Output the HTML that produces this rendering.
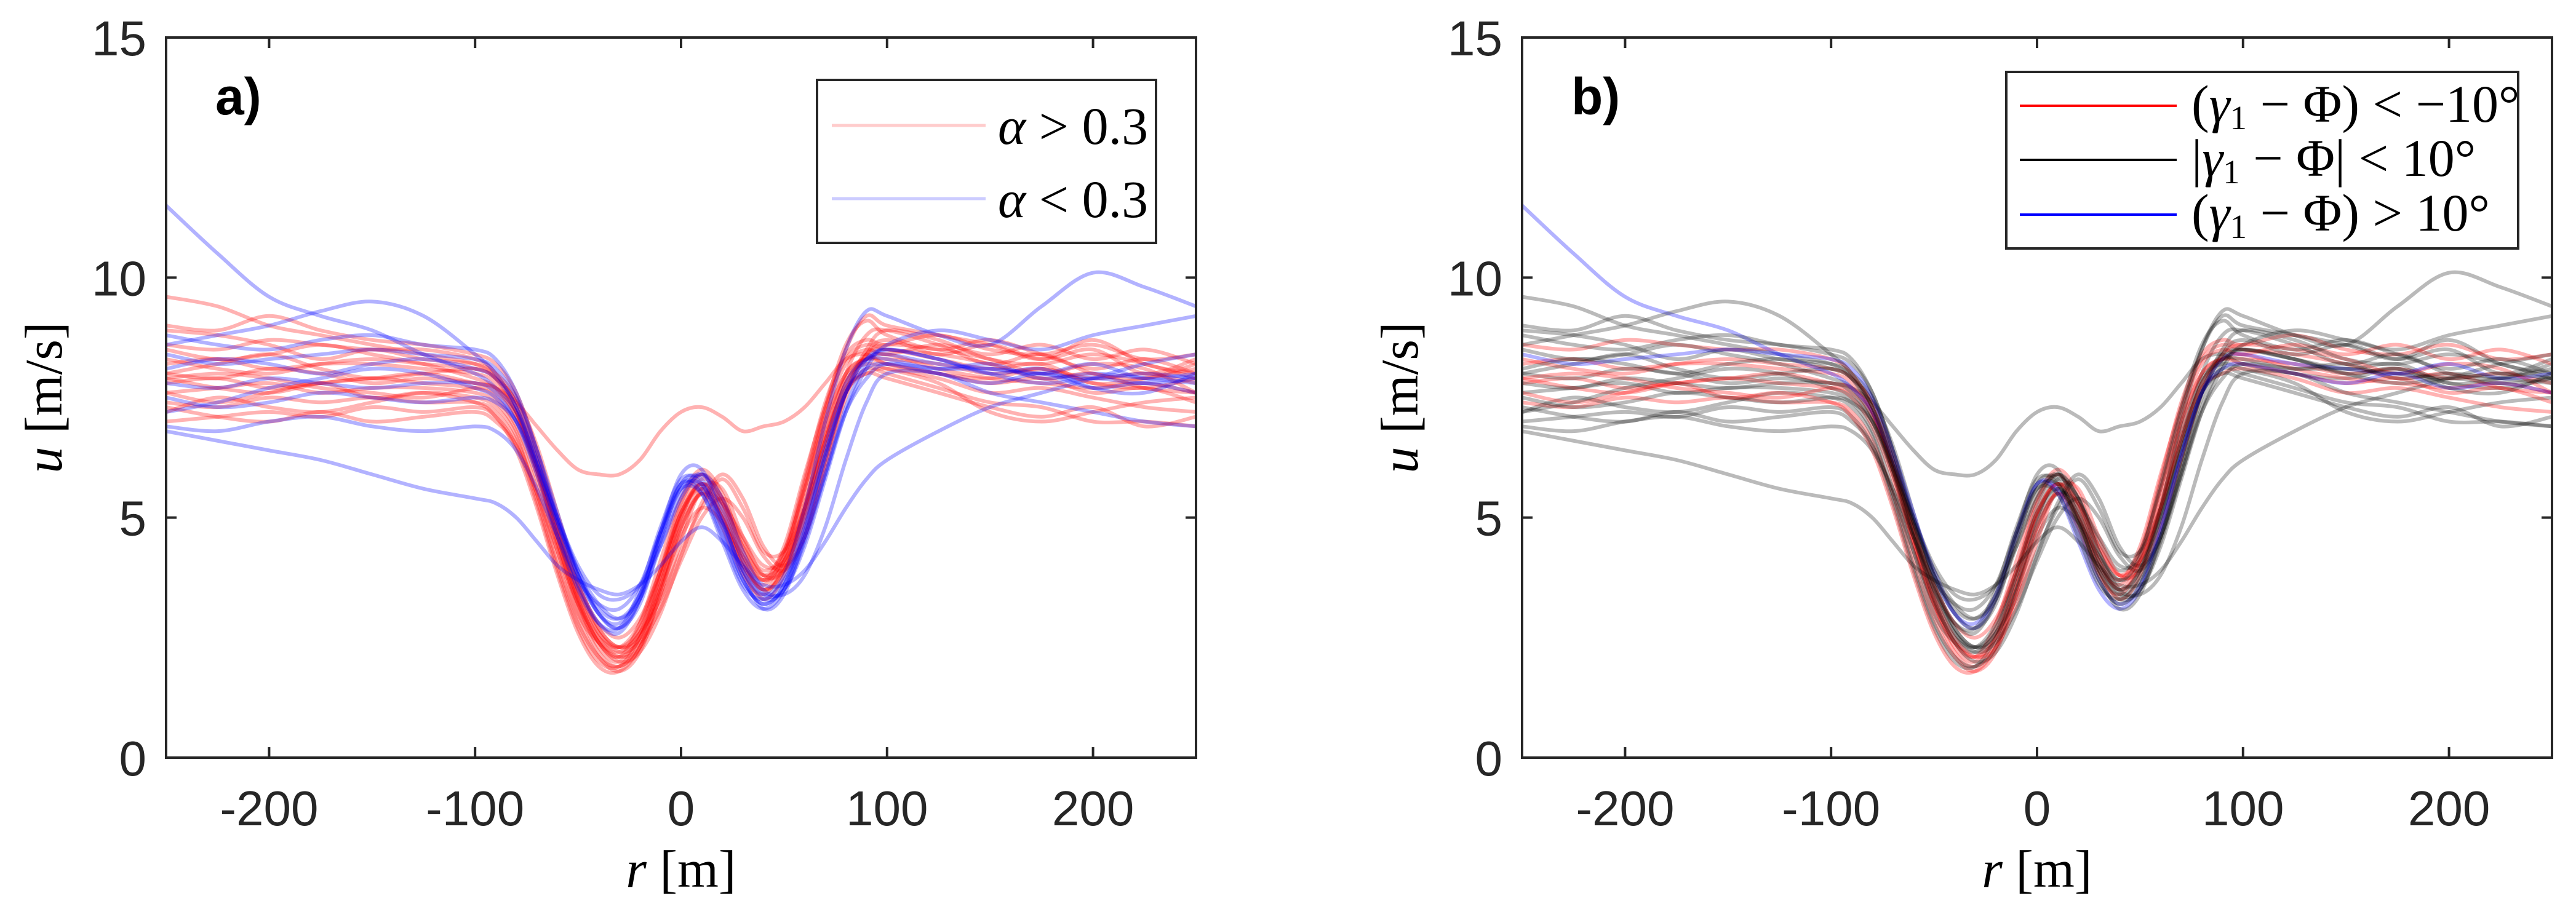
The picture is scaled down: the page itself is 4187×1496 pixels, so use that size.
<!DOCTYPE html>
<html><head><meta charset="utf-8"><style>
html,body{margin:0;padding:0;background:#fff;}
svg{display:block;}
.tick{font-family:"Liberation Sans",sans-serif;font-size:80px;fill:#262626;}
.math{font-family:"Liberation Serif",serif;font-size:86px;fill:#000;}
.plab{font-family:"Liberation Sans",sans-serif;font-size:84px;font-weight:bold;fill:#000;}
</style></head><body>
<svg id="fig" width="4187" height="1496" viewBox="0 0 4187 1496" xmlns="http://www.w3.org/2000/svg"></svg>
<script>
const rGrid=[-250,-225,-200,-175,-150,-125,-100,-90,-80,-70,-60,-50,-40,-30,-20,-10,0,10,20,30,40,50,60,70,80,90,100,125,150,175,200,225,250];
const c1=[7.8,7.9,7.7,7.8,7.9,7.8,7.7,7.5,6.9,5.8,4.4,3.1,2.2,1.9,2.4,3.6,5.0,5.7,5.0,4.0,3.6,4.2,5.6,7.0,8.0,8.3,8.3,8.2,8.0,8.1,7.9,8.0,7.8];
const c2=[8.2,8.3,8.1,8.2,8.2,8.1,8.0,7.8,7.2,6.0,4.5,3.2,2.3,2.0,2.6,3.9,5.3,5.9,5.3,4.2,3.7,4.4,5.9,7.3,8.3,8.6,8.5,8.4,8.2,7.9,8.0,7.7,7.6];
const c3=[7.4,7.3,7.5,7.4,7.5,7.4,7.4,7.2,6.6,5.5,4.1,2.9,2.1,1.8,2.2,3.4,4.7,5.5,4.8,3.8,3.4,4.0,5.3,6.7,7.7,8.0,8.1,7.9,7.6,7.7,7.5,7.3,7.2];
const c4=[8.6,8.5,8.7,8.6,8.5,8.5,8.3,8.0,7.3,6.1,4.6,3.3,2.4,2.1,2.8,4.1,5.4,6.0,5.5,4.4,3.8,4.3,5.8,7.4,8.4,8.7,8.6,8.8,8.5,8.4,8.6,8.3,8.4];
const c5=[7.0,7.1,7.2,7.1,7.3,7.2,7.3,7.1,6.5,5.3,3.9,2.7,2.0,1.9,2.5,3.5,4.6,5.2,4.9,4.2,3.7,4.0,5.0,6.4,7.6,8.1,8.0,7.7,7.4,7.3,7.0,7.0,6.9];
const c6=[9.6,9.4,9.0,8.8,8.6,8.4,8.2,7.9,7.2,6.0,4.6,3.4,2.6,2.3,2.7,3.8,5.0,5.8,5.4,4.5,3.9,4.3,5.6,7.2,8.5,9.2,9.0,8.8,8.6,8.3,8.7,8.2,8.0];
const c7=[8.0,7.9,8.1,8.0,7.8,7.9,7.8,7.7,7.4,6.9,6.4,6.0,5.9,5.9,6.2,6.8,7.2,7.3,7.1,6.8,6.9,7.0,7.3,7.8,8.3,8.4,8.2,8.0,7.9,8.1,7.8,7.7,7.9];
const c8=[7.6,7.7,7.8,7.6,7.7,7.7,7.6,7.4,6.8,5.6,4.3,3.0,2.4,2.2,2.6,3.3,4.3,5.2,5.8,5.2,4.3,4.3,5.2,6.6,7.8,8.4,8.5,8.3,8.1,8.2,7.8,7.9,8.1];
const c9=[8.3,8.1,8.0,8.2,8.3,8.2,8.1,7.9,7.4,6.3,4.8,3.4,2.5,2.1,2.3,3.2,4.5,5.6,5.6,4.6,3.8,3.9,4.8,6.2,7.6,8.4,8.6,8.5,8.3,8.0,8.2,8.1,7.6];
const c10=[7.2,7.5,7.3,7.2,7.4,7.6,7.5,7.3,6.7,5.4,4.0,2.8,2.1,1.9,2.3,3.5,4.9,5.6,5.1,4.1,3.5,3.9,5.2,6.8,7.9,8.2,8.1,7.8,7.2,7.0,7.2,7.4,7.5];
const c11=[8.9,8.8,8.6,8.3,8.5,8.3,8.2,8.0,7.5,6.5,5.1,3.7,2.7,2.3,2.5,3.6,4.8,5.5,5.3,4.6,4.0,4.1,5.1,6.6,8.0,8.8,8.9,8.6,8.2,8.4,8.0,7.9,8.2];
const c12=[7.9,8.0,7.9,7.7,7.6,7.5,7.7,7.6,7.1,5.9,4.5,3.2,2.4,2.1,2.5,3.7,5.1,5.7,5.2,4.1,3.5,4.1,5.5,7.1,8.2,8.5,8.4,8.6,8.4,8.6,8.3,8.5,8.2];
const d1=[8.0,8.2,8.4,8.1,7.9,8.0,8.1,7.9,7.4,6.2,4.7,3.3,2.4,2.0,2.2,3.0,4.2,5.3,5.9,5.4,4.4,4.0,4.6,6.0,7.5,8.4,8.7,8.4,8.6,8.3,8.5,8.0,8.3];
const d2=[7.6,7.4,7.6,7.8,7.5,7.6,7.4,7.1,6.4,5.2,3.8,2.6,1.9,1.8,2.3,3.4,4.8,5.5,5.0,3.9,3.3,3.8,5.2,6.9,8.0,8.3,8.2,8.0,7.8,7.9,7.6,7.7,7.4];
const d3=[8.5,8.3,8.4,8.6,8.4,8.2,7.9,7.7,7.1,6.0,4.7,3.5,2.6,2.2,2.4,3.1,4.1,5.0,5.4,5.0,4.2,3.9,4.6,6.1,7.6,8.5,8.9,8.7,8.3,8.2,8.4,8.2,7.9];
const d4=[7.3,7.1,7.0,7.2,7.0,7.1,7.2,7.0,6.5,5.5,4.3,3.2,2.5,2.3,2.8,3.9,5.1,5.6,5.0,4.0,3.5,3.9,5.0,6.4,7.6,8.0,7.9,7.6,7.3,7.1,7.3,6.9,7.1];
const d5=[9.0,8.9,9.2,8.9,8.7,8.6,8.4,8.2,7.6,6.4,4.9,3.6,2.7,2.3,2.6,3.8,5.2,5.9,5.4,4.3,3.7,4.2,5.7,7.3,8.6,9.1,8.8,8.5,8.7,8.4,8.1,8.3,8.0];
const d6=[7.9,7.7,7.6,7.8,7.9,8.0,7.8,7.7,7.2,6.1,4.8,3.6,2.8,2.5,2.9,3.9,5.1,5.7,5.3,4.4,3.8,4.1,5.2,6.6,7.8,8.3,8.4,8.1,7.9,7.8,7.7,7.8,7.6];
const b1=[11.5,10.5,9.6,9.2,8.9,8.4,8.0,7.7,7.2,6.2,5.0,3.9,3.0,2.7,3.3,4.6,5.7,5.6,4.7,3.7,3.2,3.6,4.8,6.3,7.6,8.3,8.4,8.2,8.1,8.0,8.2,7.9,8.0];
const b2=[7.8,7.7,7.9,7.8,7.7,7.8,7.8,7.6,7.0,5.9,4.6,3.5,2.8,2.7,3.5,4.8,5.8,5.7,4.8,3.7,3.2,3.6,4.9,6.5,7.8,8.3,8.3,8.1,8.2,7.9,8.0,7.9,7.8];
const b3=[8.4,8.2,8.3,8.4,8.5,8.4,8.3,8.1,7.5,6.4,5.1,3.8,3.0,2.8,3.4,4.7,5.7,5.5,4.5,3.5,3.1,3.5,4.7,6.3,7.6,8.1,8.2,8.0,7.8,8.0,7.7,7.8,7.6];
const b4=[6.9,6.8,7.0,7.1,6.9,6.8,6.9,6.8,6.4,5.6,4.6,3.7,3.2,3.1,3.6,4.7,5.6,5.5,4.6,3.6,3.3,3.7,4.6,5.9,7.2,7.9,8.2,8.1,8.1,8.0,7.9,8.0,7.9];
const b5=[6.8,6.6,6.4,6.2,5.9,5.6,5.4,5.3,5.0,4.5,4.0,3.7,3.5,3.4,3.6,4.0,4.5,4.8,4.5,4.0,3.6,3.6,3.9,4.5,5.2,5.8,6.2,6.8,7.3,7.6,7.9,8.2,8.4];
const b6=[8.8,8.6,8.5,8.7,8.8,8.6,8.5,8.3,7.6,6.4,5.0,3.8,3.0,2.7,3.2,4.5,5.7,5.8,4.9,3.9,3.4,3.8,5.2,7.0,8.5,9.3,9.2,8.8,8.6,9.4,10.1,9.8,9.4];
const b7=[7.5,7.3,7.4,7.6,7.5,7.4,7.5,7.4,7.0,6.1,5.0,4.0,3.4,3.3,3.6,4.4,5.4,5.9,5.4,4.3,3.5,3.4,3.8,4.8,6.2,7.4,8.0,8.0,7.6,7.4,7.2,7.0,6.9];
const b8=[8.1,8.3,8.2,8.0,8.2,8.3,8.1,7.9,7.3,6.1,4.8,3.6,2.8,2.6,3.3,4.7,5.9,6.0,5.0,3.8,3.1,3.4,4.6,6.2,7.6,8.3,8.5,8.3,8.0,8.1,7.7,7.6,8.0];
const b9=[7.2,7.4,7.7,7.9,8.1,8.0,7.7,7.5,7.0,6.0,4.9,3.9,3.2,2.9,3.3,4.4,5.5,5.9,5.2,4.1,3.4,3.5,4.4,5.8,7.2,8.1,8.6,8.9,8.7,8.5,8.8,9.0,9.2];
const b10=[8.6,8.8,9.0,9.3,9.5,9.2,8.4,8.0,7.3,6.2,4.9,3.8,3.1,2.9,3.4,4.6,5.6,5.7,4.9,3.9,3.3,3.5,4.5,5.9,7.3,8.2,8.5,8.3,8.0,7.8,7.9,7.8,7.9];
const curves=[c1,c2,c3,c4,c5,c6,c7,c8,c9,c10,c11,c12,d1,d2,d3,d4,d5,d6,b1,b2,b3,b4,b5,b6,b7,b8,b9,b10];
const classA=['r','r','r','r','r','r','r','r','r','r','r','r','r','r','r','r','r','r','b','b','b','b','b','b','b','b','b','b'];
const classB=['r','r','r','r','k','k','k','k','r','k','k','r','k','r','k','k','k','r','b','k','b','k','k','k','k','k','k','k'];
const xTicks=[-200,-100,0,100,200];
const xTickLabels=['-200','-100','0','100','200'];
const yTicks=[0,5,10,15];
const yTickLabels=['0','5','10','15'];

const NS='http://www.w3.org/2000/svg';
const svg=document.getElementById('fig');
const W=1674,H=1171,TOP=61;
const cols={r:'rgba(255,0,0,0.3)',b:'rgba(0,0,255,0.3)',k:'rgba(0,0,0,0.27)'};
function mk(tag,attrs,parent){const e=document.createElementNS(NS,tag);for(const k in attrs)e.setAttribute(k,attrs[k]);(parent||svg).appendChild(e);return e;}
function panel(L,cls,id,labelText){
  const g=mk('g',{});
  
  
  const xs=r=>L+(r+250)*W/500, ys=u=>TOP+H-u*H/15;
  const clip=mk('clipPath',{id:'clip'+id},g);mk('rect',{x:L,y:TOP,width:W,height:H},clip);
  const lg=mk('g',{'clip-path':'url(#clip'+id+')'},g);
  curves.forEach((c,i)=>{
    const pts=c.map((u,j)=>[xs(rGrid[j]),ys(u)]);
    let d='M'+pts[0][0]+','+pts[0][1];
    for(let j=0;j<pts.length-1;j++){
      const p0=pts[Math.max(j-1,0)],p1=pts[j],p2=pts[j+1],p3=pts[Math.min(j+2,pts.length-1)];
      d+=' C'+(p1[0]+(p2[0]-p0[0])/6)+','+(p1[1]+(p2[1]-p0[1])/6)+' '+(p2[0]-(p3[0]-p1[0])/6)+','+(p2[1]-(p3[1]-p1[1])/6)+' '+p2[0]+','+p2[1];
    }
    const p=mk('path',{d:d,fill:'none',stroke:cols[cls[i]],'stroke-width':6},lg);
    
    
  });
  const ax=mk('rect',{x:L,y:TOP,width:W,height:H,fill:'none',stroke:'#262626','stroke-width':4},g);
  
  
  xTicks.forEach((t,i)=>{
    const x=xs(t);
    mk('line',{x1:x,y1:TOP+H,x2:x,y2:TOP+H-17,stroke:'#262626','stroke-width':4},g);
    mk('line',{x1:x,y1:TOP,x2:x,y2:TOP+17,stroke:'#262626','stroke-width':4},g);
    const tx=mk('text',{x:x,y:TOP+H+110,'text-anchor':'middle',class:'tick'},g);tx.textContent=xTickLabels[i];
    
    
  });
  yTicks.forEach((t,i)=>{
    const y=ys(t);
    mk('line',{x1:L,y1:y,x2:L+17,y2:y,stroke:'#262626','stroke-width':4},g);
    mk('line',{x1:L+W,y1:y,x2:L+W-17,y2:y,stroke:'#262626','stroke-width':4},g);
    const tx=mk('text',{x:L-32,y:y+29,'text-anchor':'end',class:'tick'},g);tx.textContent=yTickLabels[i];
    
    
  });
  const xl=mk('text',{x:L+W/2,y:1442,'text-anchor':'middle',class:'math'},g);
  xl.innerHTML='<tspan font-style="italic">r</tspan> [m]';
  
  
  const yl=mk('text',{x:0,y:0,'text-anchor':'middle',class:'math',transform:'translate('+(L-170)+','+(TOP+H/2)+') rotate(-90)'},g);
  yl.innerHTML='<tspan font-style="italic">u</tspan> [m/s]';
  
  
  const pl=mk('text',{x:L+80,y:186,class:'plab'},g);pl.textContent=labelText;
  
  
  return g;
}
const gA=panel(270,classA,'panel-a','a)');
const gB=panel(2474,classB,'panel-b','b)');
const la=mk('g',{});


mk('rect',{x:1328,y:130,width:551,height:265,fill:'#fff',stroke:'#262626','stroke-width':4},la);
[['rgba(255,0,0,0.2)','&gt;',204],['rgba(0,0,255,0.2)','&lt;',323]].forEach(e=>{
  mk('line',{x1:1352,y1:e[2],x2:1602,y2:e[2],stroke:e[0],'stroke-width':5},la);
  const t=mk('text',{x:1622,y:e[2]+30,class:'math','font-size':'92'},la);
  t.innerHTML='<tspan font-style="italic">α</tspan> '+e[1]+' 0.3';
  
  
});
const lb=mk('g',{});


mk('rect',{x:3261,y:117,width:832,height:287,fill:'#fff',stroke:'#262626','stroke-width':4},lb);
[['#ff0000','(<tspan font-style="italic">γ</tspan><tspan font-size="55" dy="12">1</tspan><tspan dy="-12"> − Φ) &lt; −10°</tspan>',172],
 ['#000000','|<tspan font-style="italic">γ</tspan><tspan font-size="55" dy="12">1</tspan><tspan dy="-12"> − Φ| &lt; 10°</tspan>',260],
 ['#0000ff','(<tspan font-style="italic">γ</tspan><tspan font-size="55" dy="12">1</tspan><tspan dy="-12"> − Φ) &gt; 10°</tspan>',349]].forEach(e=>{
  mk('line',{x1:3283,y1:e[2],x2:3538,y2:e[2],stroke:e[0],'stroke-width':4},lb);
  const t=mk('text',{x:3562,y:e[2]+26,class:'math','font-size':'80'},lb);
  t.innerHTML=e[1];
  
  
});
</script>
</body></html>
